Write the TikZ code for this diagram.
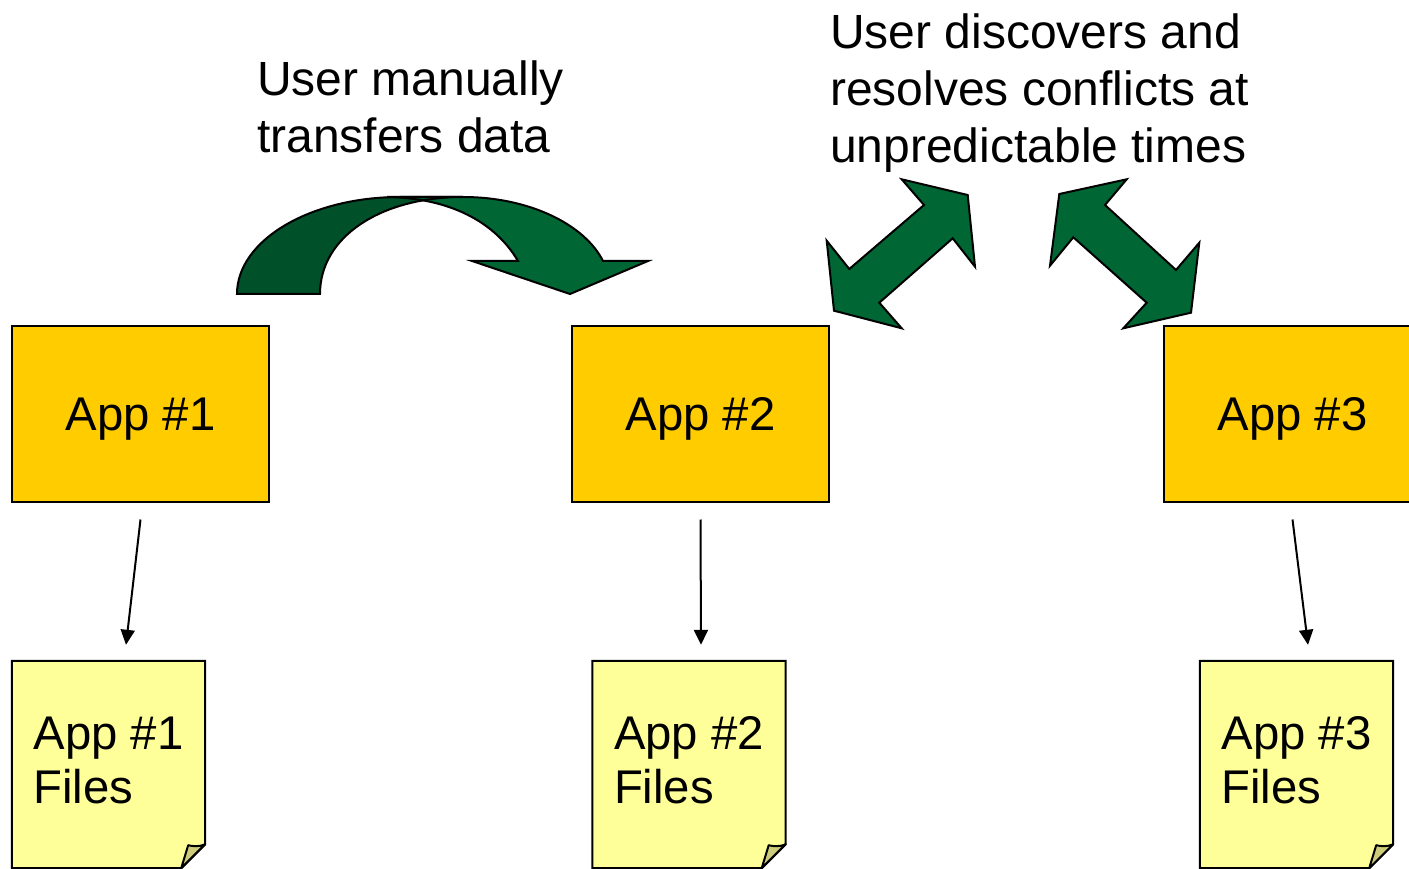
\documentclass[tikz,border=0pt]{standalone}
\usepackage{fontspec}
\setmainfont{Liberation Sans}
\usetikzlibrary{arrows.meta}
\definecolor{appgold}{HTML}{FFCC00}
\definecolor{filepaper}{HTML}{FFFF99}
\definecolor{filefold}{HTML}{CCCC7A}
\definecolor{bandgreen}{HTML}{006633}
\definecolor{bandshade}{HTML}{00502A}
\pgfdeclarelayer{background}
\pgfsetlayers{background,main}
\tikzset{
  appbox/.style={draw=black, line width=2pt, fill=appgold, minimum width=257pt,
    minimum height=176pt, inner sep=0pt, text height=34pt, text depth=1pt,
    font=\fontsize{47.3}{54}\selectfont},
  filebox/.style={minimum width=193pt, minimum height=207pt, inner xsep=21pt,
    inner ysep=0pt, align=left, text depth=9pt,
    font=\fontsize{47.3}{54}\selectfont},
  paper/.style={draw=black, line width=2pt, fill=filepaper, line join=miter},
  foldpaper/.style={draw=black, line width=2pt, fill=filefold, line join=round},
  caption/.style={inner sep=0pt, align=left, font=\fontsize{48}{57}\selectfont},
  flow/.style={line width=2pt, -{Triangle[length=15pt,width=14pt]}},
  greenband/.style={draw=black, line width=2pt, fill=bandgreen, line join=miter},
  shadeband/.style={draw=black, line width=2pt, fill=bandshade, line join=miter}
}
\begin{document}
\begin{tikzpicture}[x=1pt,y=-1pt]
\useasboundingbox (0,0) rectangle (1409,869);

% captions
\node[caption, anchor=north west] (transferlabel) at (257,60.6) {User manually\\transfers data};
\node[caption, anchor=north west] (conflictlabel) at (830,14) {User discovers and\\resolves conflicts at\\unpredictable times};

% applications
\node[appbox] (app1) at (140.5,413.5) {App \#1};
\node[appbox] (app2) at (700.5,413.5) {App \#2};
\node[appbox] (app3) at (1292.5,413.5) {App \#3};

% file documents
\node[filebox] (f1) at (108.5,764.5) {App \#1\\Files};
\node[filebox] (f2) at (689,764.5) {App \#2\\Files};
\node[filebox] (f3) at (1296.5,764.5) {App \#3\\Files};

\begin{pgfonlayer}{background}
\fill[white] (0,0) rectangle (1409,869);
\foreach \f in {f1,f2,f3} {
  \filldraw[paper] (\f.north west) -- (\f.north east) -- ([yshift=24pt]\f.south east)
    -- ([xshift=-24pt]\f.south east) -- (\f.south west) -- cycle;
  \filldraw[foldpaper] ([yshift=24pt]\f.south east)
    .. controls ([xshift=-7pt,yshift=21pt]\f.south east) and ([xshift=-13pt,yshift=22pt]\f.south east)
    .. ([xshift=-17pt,yshift=23pt]\f.south east)
    -- ([xshift=-24pt]\f.south east) -- cycle;
}
\end{pgfonlayer}

% app to files
\draw[flow] ([yshift=-17pt]app1.south) -- ([xshift=17.5pt,yshift=16pt]f1.north);
\draw[flow] ([yshift=-17pt]app2.south) -- ([xshift=12pt,yshift=16pt]f2.north);
\draw[flow] ([yshift=-17pt]app3.south) -- ([xshift=11.5pt,yshift=16pt]f3.north);

% curved transfer arrow
\fill[bandgreen] (387,197) -- (463,197) .. controls (530,197) and (585,225) .. (603,261)
  -- (648,261) -- (570,294) -- (472,261) -- (518,261)
  .. controls (495,222) and (450,198) .. (387,197) -- cycle;
\fill[bandshade] (237,294) .. controls (237,240.4) and (310,197) .. (400,197) -- (463,197)
  .. controls (382,197) and (320,236) .. (320,294) -- cycle;
\draw[line width=2pt, line join=miter] (387,197) -- (463,197) .. controls (530,197) and (585,225) .. (603,261)
  -- (648,261) -- (570,294) -- (472,261) -- (518,261)
  .. controls (495,222) and (450,198) .. (387,197);
\draw[line width=2pt, line join=miter] (237,294) .. controls (237,240.4) and (310,197) .. (400,197) -- (463,197)
  .. controls (382,197) and (320,236) .. (320,294) -- cycle;

% conflict double arrows
\filldraw[greenband] (901.7,179.3) -- (967.7,195) -- (975,266.7) -- (952.7,238.3)
  -- (879.3,302.7) -- (901.7,328.3) -- (834,310.7) -- (826.7,240.7)
  -- (849.3,269) -- (924,205) -- cycle;
\filldraw[greenband] (1126.7,179.3) -- (1105,205) -- (1176,270) -- (1199.3,242.7)
  -- (1191,312.7) -- (1123.3,328.3) -- (1146.7,302.7) -- (1073.3,237.3)
  -- (1050,265.7) -- (1059.3,194) -- cycle;
\end{tikzpicture}
\end{document}
